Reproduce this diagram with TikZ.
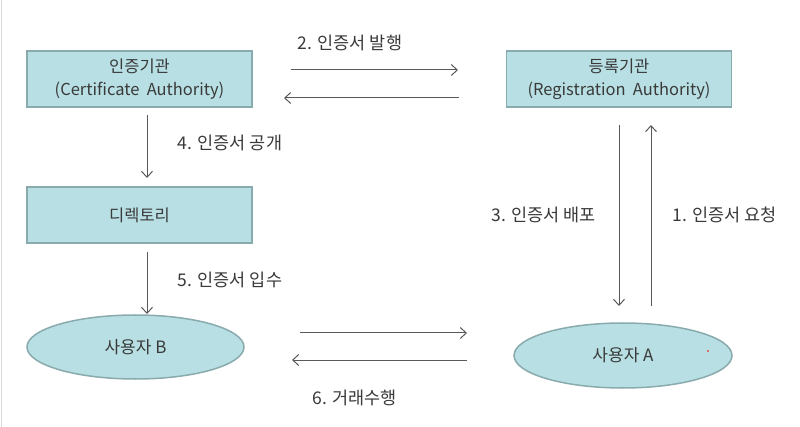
\documentclass[tikz,border=0pt]{standalone}
\usepackage{fontspec}
\setmainfont{Noto Sans CJK KR}
\usetikzlibrary{shapes.geometric,arrows.meta}
\definecolor{boxfill}{HTML}{B8DFE3}
\definecolor{boxline}{HTML}{8AABAD}
\definecolor{arrowc}{HTML}{595959}
\definecolor{txt}{HTML}{3A3A3A}
\tikzset{
  entity/.style={draw=boxline, line width=1.5pt, fill=boxfill, rectangle, minimum width=225pt, minimum height=56pt, inner sep=0pt, align=center, text=txt, font=\fontsize{16.5}{23}\selectfont},
  actor/.style={draw=boxline, line width=1.5pt, fill=boxfill, ellipse, minimum width=217pt, minimum height=64pt, inner sep=0pt, text=txt, font=\fontsize{17}{20}\selectfont},
  flow/.style={draw=arrowc, line width=1pt, -{Straight Barb[length=6pt,width=11pt]}},
  lbl/.style={text=txt, font=\fontsize{17.5}{20}\selectfont, inner sep=0pt}
}
\begin{document}
\begin{tikzpicture}[x=1pt,y=-1pt]
\useasboundingbox (0,0) rectangle (800,427);
\fill[white] (0,0) rectangle (800,427);
\draw[draw=black!15, line width=1pt] (1.5,0) -- (1.5,427);

\node[entity] (ca) at (139.5,79) {인증기관\\(Certificate\ \ Authority)};
\node[entity] (ra) at (619,79) {등록기관\\(Registration\ \ Authority)};
\node[entity] (dir) at (139.5,215) {디렉토리};
\node[actor] (ub) at (135.5,347) {사용자 B};
\node[actor, minimum width=218pt, minimum height=65pt] (ua) at (623,355.5) {사용자 A};
\fill[red] (708,351) circle (0.9);

% coordinates for arrow ends
\coordinate (a2s) at (291,70);  \coordinate (a2e) at (458,70);
\coordinate (b2s) at (459,98);  \coordinate (b2e) at (284,98);
\coordinate (a4s) at (147,115); \coordinate (a4e) at (147,178);
\coordinate (a5s) at (147,252); \coordinate (a5e) at (147,314);
\coordinate (a3s) at (619,125); \coordinate (a3e) at (619,306);
\coordinate (a1s) at (651,306); \coordinate (a1e) at (651,125);
\coordinate (a6s) at (300,333); \coordinate (a6e) at (467,333);
\coordinate (b6s) at (467,360); \coordinate (b6e) at (292,360);

\draw[flow] (a2s) -- (a2e);
\draw[flow] (b2s) -- (b2e);
\draw[flow] (a4s) -- (a4e);
\draw[flow] (a5s) -- (a5e);
\draw[flow] (a3s) -- (a3e);
\draw[flow] (a1s) -- (a1e);
\draw[flow] (a6s) -- (a6e);
\draw[flow] (b6s) -- (b6e);

\node[lbl] (l2) at (350,43) {2. 인증서 발행};
\node[lbl] (l4) at (230,143) {4. 인증서 공개};
\node[lbl] (l5) at (230,280) {5. 인증서 입수};
\node[lbl] (l3) at (543.5,215) {3. 인증서 배포};
\node[lbl] (l1) at (724.5,215) {1. 인증서 요청};
\node[lbl] (l6) at (354.5,398) {6. 거래수행};
\end{tikzpicture}
\end{document}
